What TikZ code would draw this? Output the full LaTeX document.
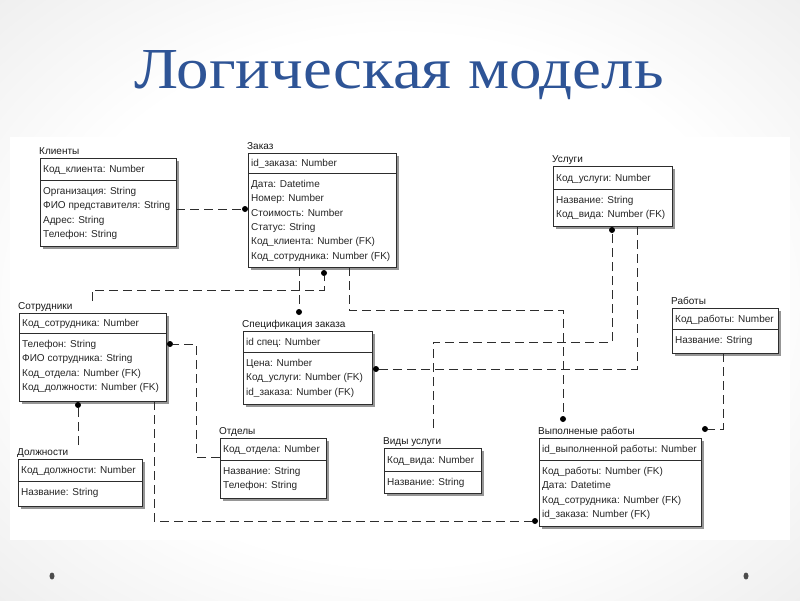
\documentclass[tikz,border=0pt]{standalone}
\usepackage{fontspec}
\setmainfont{Liberation Serif}
\newfontfamily\diagfont{Liberation Sans}
\usetikzlibrary{calc}
\definecolor{titleblue}{RGB}{46,84,150}
\definecolor{linec}{RGB}{45,45,45}
\definecolor{shadowc}{RGB}{150,150,150}
\pgfdeclareradialshading{slidebg}{\pgfpoint{0bp}{0bp}}{color(0bp)=(white); color(22bp)=(white); color(50bp)=(black!13); color(72bp)=(black!22)}
\tikzset{
  ebox/.style={draw=linec, fill=white, line width=0.8pt, inner sep=0pt, outer sep=0pt},
  boxline/.style={draw=linec, line width=0.8pt},
  elabel/.style={font=\diagfont\fontsize{10}{12}\selectfont, inner sep=0pt, text=black!90},
  etext/.style={font=\diagfont\fontsize{10}{14.3}\selectfont, inner sep=0pt, text=black!85},
  rel/.style={draw=linec, line width=0.9pt, dash pattern=on 9pt off 5pt},
  dotn/.style={circle, fill=black, inner sep=0pt, minimum size=6pt},
}
\newcommand\entity[9]{%
  \fill[shadowc] (#2+3,#3+3) rectangle (#4+3,#6+3);
  \node[ebox, anchor=north west, minimum width={#4pt-#2pt}, minimum height={#6pt-#3pt}] (#1) at (#2,#3) {};
  \draw[boxline] (#2,#5) -- (#4,#5);
  \node[elabel, anchor=base west] (#1-t) at (#2-1,#3-3.5) {#7};
  \node[etext, anchor=base west] (#1-k) at (#2+3,{(#3+#5)/2+3.7}) {#8};
  \foreach \attrtext [count=\attri from 0] in {#9} {
    \node[etext, anchor=base west] (#1-a\attri) at (#2+3,{#5+14.6+14.3*\attri}) {\attrtext};
  }
}
\begin{document}
\begin{tikzpicture}[x=1pt,y=-1pt]
\shade[shading=slidebg] (0,0) rectangle (800,600);
\useasboundingbox (0,0) rectangle (800,600);
\fill[white] (10,137) rectangle (790,540);
\node[font=\fontsize{58}{60}\selectfont, text=titleblue, anchor=base, inner sep=0pt] (title) at (399,88) {\scalebox{1.12}[1]{Логическая модель}};
\fill[gray!60!black] (52,576) ellipse (2.5 and 3.5);
\fill[gray!60!black] (746,576) ellipse (2.5 and 3.5);

\entity{kl}{40}{158}{176}{180}{246}{Клиенты}{Код\_клиента: Number}{Организация: String, ФИО представителя: String, Адрес: String, Телефон: String}
\entity{zk}{248}{153}{396}{173}{267}{Заказ}{id\_заказа: Number}{Дата: Datetime, Номер: Number, Стоимость: Number, Статус: String, Код\_клиента: Number (FK), Код\_сотрудника: Number (FK)}
\entity{us}{553}{166}{672}{189}{226}{Услуги}{Код\_услуги: Number}{Название: String, Код\_вида: Number (FK)}
\entity{so}{19}{313}{166}{333}{401}{Сотрудники}{Код\_сотрудника: Number}{Телефон: String, ФИО сотрудника: String, Код\_отдела: Number (FK), Код\_должности: Number (FK)}
\entity{sp}{243}{331}{372}{352}{404}{Спецификация заказа}{id спец: Number}{Цена: Number, Код\_услуги: Number (FK), id\_заказа: Number (FK)}
\entity{ra}{672}{308}{778}{329}{353}{Работы}{Код\_работы: Number}{Название: String}
\entity{dl}{18}{459}{142}{481}{506}{Должности}{Код\_должности: Number}{Название: String}
\entity{ot}{220}{438}{326}{460}{498}{Отделы}{Код\_отдела: Number}{Название: String, Телефон: String}
\entity{vu}{384}{448}{481}{471}{493}{Виды услуги}{Код\_вида: Number}{Название: String}
\entity{vr}{539}{438}{701}{460}{526}{Выполненые работы}{id\_выполненной работы: Number}{Код\_работы: Number (FK), Дата: Datetime, Код\_сотрудника: Number (FK), id\_заказа: Number (FK)}

\coordinate (x154) at (154,0);
\coordinate (x349) at (349,0);
\coordinate (x637) at (637,0);
\coordinate (x723) at (723,0);
\coordinate (y457) at (0,457);
\coordinate (soTop) at (92,301);
\coordinate (vuTop) at (433,428);
\coordinate (dlTop) at (78,445);

\node[dotn] (d1) at (245,209) {};
\node[dotn] (d2) at (324,273) {};
\node[dotn] (d3) at (299,312) {};
\node[dotn] (d4) at (563,419) {};
\node[dotn] (d5) at (612,230) {};
\node[dotn] (d6) at (376,369) {};
\node[dotn] (d7) at (705,429) {};
\node[dotn] (d8) at (535,521) {};
\node[dotn] (d9) at (170,344) {};
\node[dotn] (d10) at (78,405) {};

\draw[rel] (kl.east |- d1) -- (d1);
\draw[rel] (soTop) -- (92,290) -- (324,290) -- (d2);
\draw[rel] (zk.south -| d3) -- (d3);
\draw[rel] (zk.south -| x349) -- (349,310) -- (563,310) -- (d4);
\draw[rel] (vuTop) -- (433,342) -- (612,342) -- (d5);
\draw[rel] (us.south -| x637) -- (637,369) -- (d6);
\draw[rel] (ra.south -| x723) -- (723,429) -- (d7);
\draw[rel] (so.south -| x154) -- (154,521) -- (d8);
\draw[rel] (ot.west |- y457) -- (196,457) -- (196,344) -- (d9);
\draw[rel] (dlTop) -- (d10);
\end{tikzpicture}
\end{document}
